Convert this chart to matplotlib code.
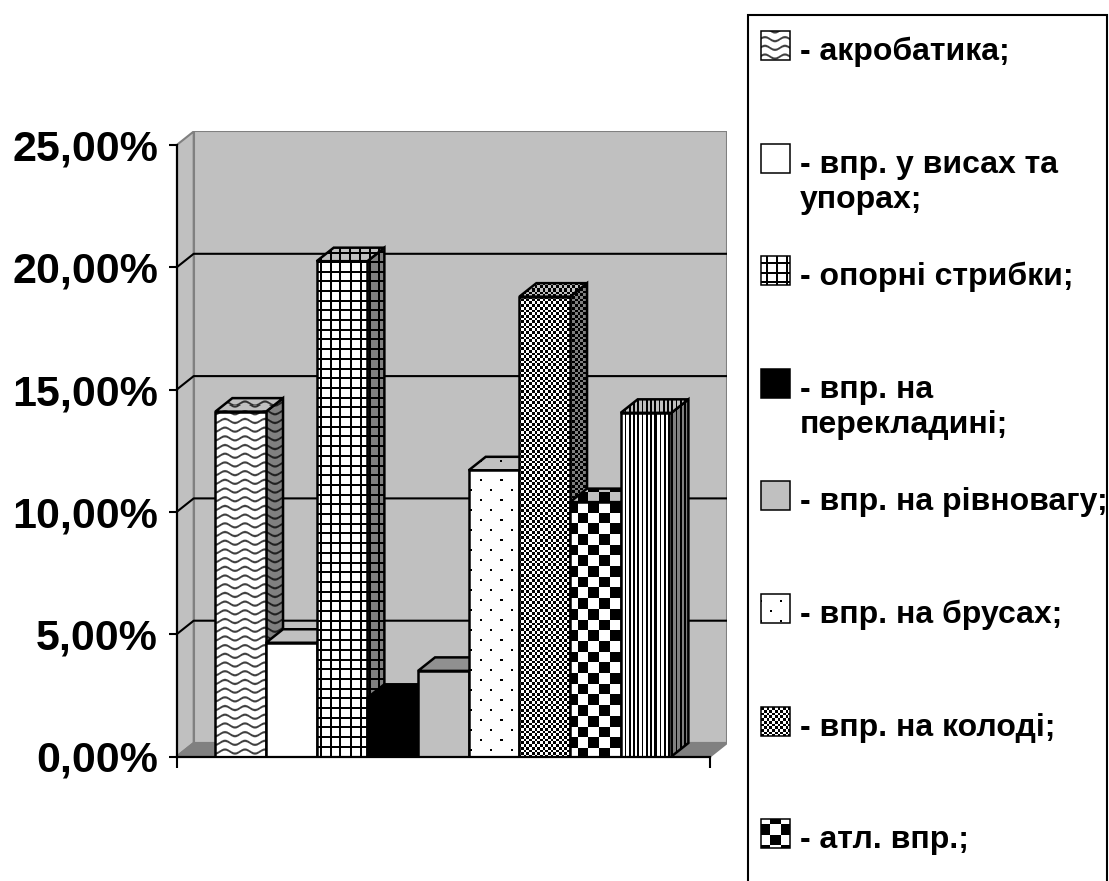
import numpy as np
import matplotlib
matplotlib.use("Agg")
import matplotlib.pyplot as plt
from matplotlib.patches import Polygon, Rectangle
from matplotlib.ticker import FuncFormatter

plt.rcParams['font.family'] = ['Liberation Sans', 'DejaVu Sans']

# share of each kind of exercise, %
values = [14.1, 4.65, 20.25, 2.4, 3.5, 11.7, 18.8, 10.4, 14.05]
fills = ["wave", "white", "grid", "black", "gray", "dots", "fine", "checker", "vlines"]
labels = [
    "- акробатика;",
    "- впр. у висах та\nупорах;",
    "- опорні стрибки;",
    "- впр. на\nперекладині;",
    "- впр. на рівновагу;",
    "- впр. на брусах;",
    "- впр. на колоді;",
    "- атл. впр.;",
]
y_ticks = [0, 5, 10, 15, 20, 25]

W, H = 1109, 881
GAP = 0.763          # free floor on each side of the bar group, in bar widths
DX, DY = 0.3355, 0.552   # depth of the 3-D box in x units / percent
YMAX = 25
PX_X, PX_Y = 50.67, 24.46  # pixels per x unit / per percent
x0, x1 = -GAP, len(values) + GAP


def pattern(kind, X, Y):
    # screen-aligned fill patterns, X/Y in pixels (Y down)
    if kind == "white":
        return np.ones_like(X)
    if kind == "black":
        return np.zeros_like(X)
    if kind == "gray":
        return np.full_like(X, 0.75)
    if kind == "wave":
        d = np.mod(Y + 2.0 * np.sin(2 * np.pi * X / 20.0), 8.7)
        v = np.clip((np.abs(d - 4.35) - 0.5) / 1.2, 0, 1)
        return 0.25 + 0.75 * v
    if kind == "grid":
        on = (np.mod(X, 9.7) < 2.0) | (np.mod(Y, 9.7) < 2.0)
        return np.where(on, 0.0, 1.0)
    if kind == "dots":
        row = np.floor(Y / 10.0)
        xs = np.mod(X + 10.0 * np.mod(row, 2), 20.0)
        ys = np.mod(Y, 10.0)
        return np.where((xs < 2) & (ys < 2), 0.0, 1.0)
    if kind == "fine":
        return np.mod(np.floor(X / 2.7) + np.floor(Y / 2.7), 2)
    if kind == "checker":
        return np.mod(np.floor(X / 10.7) + np.floor(Y / 10.7), 2)
    if kind == "vlines":
        return np.where(np.mod(X, 4.25) < 1.7, 0.0, 1.0)
    return np.ones_like(X)


def paint(ax, clip, kind, shade, zorder):
    # fill a patch with a pixel texture clipped to its outline
    disp = clip.get_transform().transform(clip.get_path().vertices)
    px0, py0 = np.floor(disp.min(axis=0))
    px1, py1 = np.ceil(disp.max(axis=0))
    xs = np.arange(px0, px1) + 0.5
    ys = H - (np.arange(py1, py0, -1) - 0.5)
    X, Y = np.meshgrid(xs, ys)
    img = pattern(kind, X, Y) * shade
    inv = ax.transData.inverted()
    (dx0, dy0), (dx1, dy1) = inv.transform([(px0, py0), (px1, py1)])
    im = ax.imshow(img, cmap="gray", vmin=0, vmax=1, extent=(dx0, dx1, dy0, dy1),
                   origin="upper", interpolation="nearest", aspect="auto", zorder=zorder)
    im.set_clip_path(clip)
    return im


fig = plt.figure(figsize=(W / 100, H / 100), dpi=100)
fig.patch.set_facecolor("white")

ax = fig.add_axes([176.7 / W, (H - 756.5) / H,
                   (x1 + DX - x0) * PX_X / W, (YMAX + DY) * PX_Y / H])
ax.set_xlim(x0, x1 + DX)
ax.set_ylim(0, YMAX + DY)
ax.set_facecolor("none")

# walls and floor
wall = "#c0c0c0"
edge = "#808080"
ax.add_patch(Polygon([(x0 + DX, DY), (x1 + DX, DY), (x1 + DX, YMAX + DY), (x0 + DX, YMAX + DY)],
                     facecolor=wall, edgecolor=edge, lw=1.5, zorder=1))
ax.add_patch(Polygon([(x0, 0), (x0 + DX, DY), (x0 + DX, YMAX + DY), (x0, YMAX)],
                     facecolor=wall, edgecolor=edge, lw=1.5, zorder=1))
ax.add_patch(Polygon([(x0, 0), (x1, 0), (x1 + DX, DY), (x0 + DX, DY)],
                     facecolor=edge, edgecolor=edge, lw=1.5, zorder=1.1))
for t in y_ticks[1:-1]:
    ax.plot([x0, x0 + DX, x1 + DX], [t, t + DY, t + DY], color="black", lw=1.5,
            zorder=1.5, solid_capstyle="butt")

# bars: side, top, then front, left to right so each bar hides its neighbour's side
bars = ax.bar(np.arange(len(values)), values, width=1, align="edge",
              facecolor="none", edgecolor="black", lw=1.8)
for i, (bar, v, kind) in enumerate(zip(bars, values, fills)):
    z = 3 + i * 0.1
    side = Polygon([(i + 1, 0), (i + 1 + DX, DY), (i + 1 + DX, v + DY), (i + 1, v)],
                   facecolor="none", edgecolor="black", lw=1.8, zorder=z + 0.01,
                   joinstyle="miter")
    top = Polygon([(i, v), (i + 1, v), (i + 1 + DX, v + DY), (i + DX, v + DY)],
                  facecolor="none", edgecolor="black", lw=1.8, zorder=z + 0.03,
                  joinstyle="miter")
    ax.add_patch(side)
    ax.add_patch(top)
    paint(ax, side, kind, 0.5, z)
    paint(ax, top, kind, 0.75, z + 0.02)
    bar.set_zorder(z + 0.05)
    bar.set_joinstyle("miter")
    paint(ax, bar, kind, 1.0, z + 0.04)

ax.set_xlim(x0, x1 + DX)
ax.set_ylim(0, YMAX + DY)

for s in ["top", "right"]:
    ax.spines[s].set_visible(False)
ax.spines["left"].set_bounds(0, YMAX)
ax.spines["bottom"].set_bounds(x0, x1)
for s in ["left", "bottom"]:
    ax.spines[s].set_linewidth(1.6)
    ax.spines[s].set_zorder(6)
ax.set_yticks(y_ticks)
ax.yaxis.set_major_formatter(FuncFormatter(lambda v, p: f"{v:.2f}%".replace(".", ",")))
ax.set_xticks([x0, x1])
ax.set_xticklabels([])
ax.tick_params(axis="y", length=6, width=1.5, pad=7.5, labelsize=31)
ax.tick_params(axis="x", length=8, width=1.5)
for lab in ax.get_yticklabels():
    lab.set_fontweight("bold")

# legend panel
leg = fig.add_axes([0, 0, 1, 1], zorder=-1)
leg.set_xlim(0, W)
leg.set_ylim(H, 0)
leg.axis("off")
leg.add_patch(Rectangle((748, 15), 1107 - 748, 900, facecolor="white",
                        edgecolor="black", lw=1.5, clip_on=False))
for i, (text, kind) in enumerate(zip(labels, fills)):
    base = 60 + 112.6 * i
    sw = Rectangle((761, base - 29), 29, 29, facecolor="none", edgecolor="black",
                   lw=1.1, zorder=3)
    leg.add_patch(sw)
    paint(leg, sw, kind, 1.0, 2)
    for k, line in enumerate(text.split("\n")):
        leg.text(800, base + 35 * k, line, ha="left", va="baseline",
                 fontsize=23, fontweight="bold")
leg.set_xlim(0, W)
leg.set_ylim(H, 0)

fig.savefig("out.png", dpi=100, facecolor="white")
